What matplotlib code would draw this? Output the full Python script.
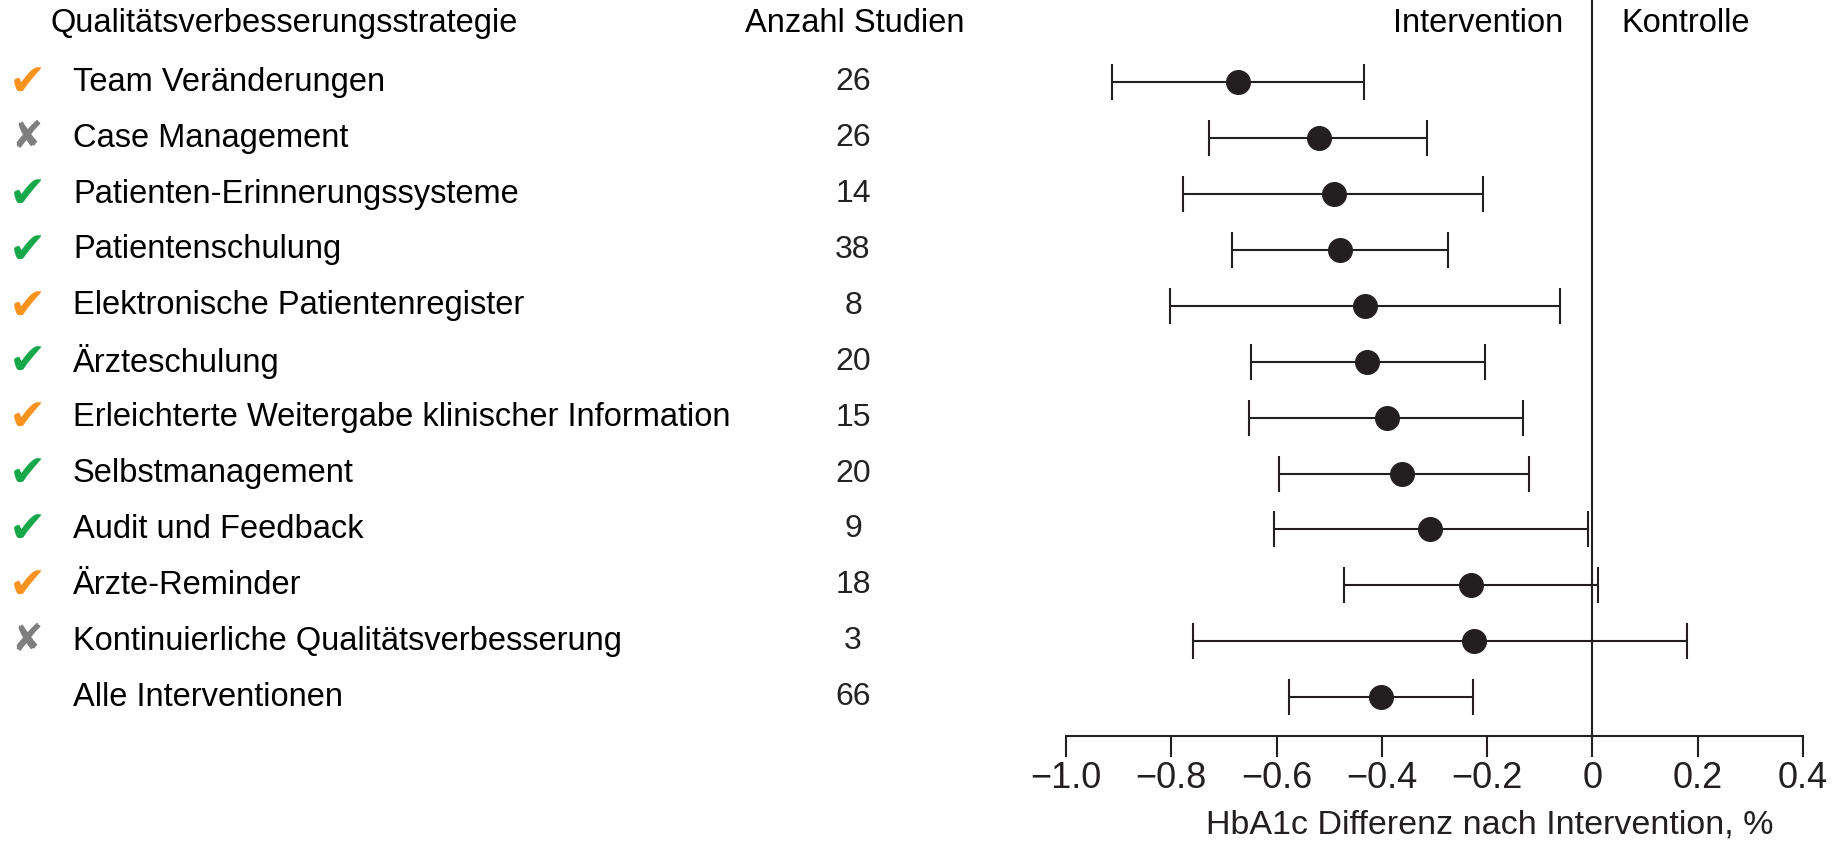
import matplotlib
matplotlib.use("Agg")
import matplotlib.pyplot as plt
from matplotlib.transforms import blended_transform_factory

# data
strategies = [
    "Team Veränderungen",
    "Case Management",
    "Patienten-Erinnerungssysteme",
    "Patientenschulung",
    "Elektronische Patientenregister",
    "Ärzteschulung",
    "Erleichterte Weitergabe klinischer Information",
    "Selbstmanagement",
    "Audit und Feedback",
    "Ärzte-Reminder",
    "Kontinuierliche Qualitätsverbesserung",
    "Alle Interventionen",
]
n_studies = [26, 26, 14, 38, 8, 20, 15, 20, 9, 18, 3, 66]
effect = [-0.674, -0.520, -0.491, -0.480, -0.432, -0.428, -0.390, -0.362, -0.308, -0.231, -0.225, -0.402]
ci_low = [-0.913, -0.728, -0.777, -0.684, -0.802, -0.648, -0.652, -0.595, -0.604, -0.471, -0.759, -0.577]
ci_high = [-0.433, -0.315, -0.207, -0.274, -0.062, -0.205, -0.131, -0.121, -0.009, 0.010, 0.180, -0.227]
# icon per row: orange check, green check, grey cross, none
icons = ["orange", "grey", "green", "green", "orange", "green", "orange", "green", "green", "orange", "grey", None]
xticks = [-1.0, -0.8, -0.6, -0.4, -0.2, 0.0, 0.2, 0.4]
xtick_labels = ["\u22121.0", "\u22120.8", "\u22120.6", "\u22120.4", "\u22120.2", "0", "0.2", "0.4"]

icon_style = {
    "orange": ("\u2714", "#F7931E", 32),
    "green": ("\u2714", "#16A84A", 32),
    "grey": ("\u2718", "#7F7F7F", 27),
}

plt.rcParams["font.family"] = ["Liberation Sans", "DejaVu Sans"]
ink = "#231F20"

W, H = 1843, 842
fig = plt.figure(figsize=(W / 100, H / 100), dpi=100)
ax = fig.add_axes([1066 / W, 1 - 736 / H, (1803 - 1066) / W, 736 / H])

rows = [-i for i in range(len(strategies))]
ax.set_xlim(-1.0, 0.4)
ax.set_ylim(-11.694, 1.472)

ax.axvline(0, color=ink, lw=1.5, zorder=1)
xerr = [[m - lo for m, lo in zip(effect, ci_low)], [hi - m for m, hi in zip(effect, ci_high)]]
ax.errorbar(effect, rows, xerr=xerr, fmt="o", color=ink, ms=17,
            elinewidth=1.5, capsize=13, capthick=1.5, zorder=3)

for s in ["top", "right", "left"]:
    ax.spines[s].set_visible(False)
ax.spines["bottom"].set_linewidth(1.5)
ax.spines["bottom"].set_color(ink)
ax.set_yticks([])
ax.set_xticks(xticks)
ax.set_xticklabels(xtick_labels, fontsize=26, color=ink)
ax.tick_params(axis="x", direction="out", length=15, width=1.5, pad=3, color=ink)

fig.text(1490 / W, 1 - 825 / H, "HbA1c Differenz nach Intervention, %",
         fontsize=24.5, color=ink, ha="center", va="center")

# header row
head_y = 1.052
ax.text(-0.0546, head_y, "Intervention", ha="right", va="center", fontsize=23.5, color="black")
ax.text(0.055, head_y, "Kontrolle", ha="left", va="center", fontsize=23.5, color="black")

tr = blended_transform_factory(fig.transFigure, ax.transData)
ax.text(50 / W, head_y, "Qualitätsverbesserungsstrategie", transform=tr,
        ha="left", va="center", fontsize=23.5, clip_on=False)
ax.text(855 / W, head_y, "Anzahl Studien", transform=tr,
        ha="center", va="center", fontsize=23.5, clip_on=False)

for y, name, n, ic in zip(rows, strategies, n_studies, icons):
    ax.text(73 / W, y, name, transform=tr, ha="left", va="center",
            fontsize=23.5, clip_on=False)
    ax.text(853 / W, y, str(n), transform=tr, ha="center", va="center",
            fontsize=23, color="#222222", clip_on=False)
    if ic:
        sym, col, size = icon_style[ic]
        ax.text(27 / W, y, sym, transform=tr, ha="center", va="center",
                family="DejaVu Sans", fontsize=size, color=col, clip_on=False)

fig.savefig("out.png", dpi=100)
